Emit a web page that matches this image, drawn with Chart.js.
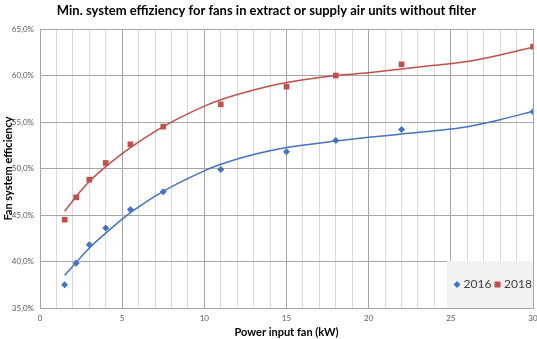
<!DOCTYPE html>
<html>
<head>
<meta charset="utf-8">
<script src="https://cdn.jsdelivr.net/npm/chart.js@4.4.0/dist/chart.umd.min.js"></script>
<style>
  html, body { margin: 0; padding: 0; background: #fff; }
  #wrap { width: 537px; height: 339px; position: relative; }
</style>
</head>
<body>
<div id="wrap"><canvas id="myChart"></canvas></div>
<script>
// Datos (kW y % de eficiencia)
const powerKW = [1.5, 2.2, 3, 4, 5.5, 7.5, 11, 15, 18, 22, 30];
const eff2016 = [37.5, 39.8, 41.8, 43.6, 45.6, 47.5, 49.9, 51.8, 53.0, 54.2, 56.1];
const eff2018 = [44.5, 46.9, 48.8, 50.6, 52.6, 54.5, 56.9, 58.8, 60.0, 61.2, 63.1];

// Líneas de tendencia
const trendKW = [1.5, 2.2, 3, 4, 5, 5.5, 7.5, 10, 11, 13, 15, 18, 20, 22, 24, 26, 28, 30];
const trend2016 = [38.5, 39.9, 41.45, 43.05, 44.55, 45.25, 47.55, 49.75, 50.45, 51.5, 52.25, 52.95, 53.35, 53.7, 54.05, 54.5, 55.25, 56.15];
const trend2018 = [45.4, 47.0, 48.6, 50.2, 51.6, 52.25, 54.5, 56.7, 57.4, 58.45, 59.25, 60.0, 60.3, 60.7, 61.1, 61.5, 62.2, 63.05];

const seriesLabels = ['2016', '2018'];
const blue = '#4472c4';
const red = '#c0504d';

const toPoints = (xs, ys) => xs.map((x, i) => ({ x: x, y: ys[i] }));

// Leyenda dentro del área del gráfico, abajo a la derecha
const insideLegend = {
    id: 'insideLegend',
    afterDraw(chart) {
        const ctx = chart.ctx;
        const area = chart.chartArea;
        const w = 86, h = 47;
        const x0 = area.right - w, y0 = area.bottom - h;
        ctx.save();
        ctx.fillStyle = '#f2f2f2';
        ctx.fillRect(x0, y0, w, h);
        const cy = y0 + h / 2;
        ctx.font = '12px Lato, "Open Sans", sans-serif';
        ctx.textBaseline = 'middle';
        ctx.textAlign = 'left';
        // 2016 rombo
        ctx.fillStyle = blue;
        ctx.beginPath();
        ctx.moveTo(x0 + 10, cy - 3.5);
        ctx.lineTo(x0 + 13.5, cy);
        ctx.lineTo(x0 + 10, cy + 3.5);
        ctx.lineTo(x0 + 6.5, cy);
        ctx.closePath();
        ctx.fill();
        ctx.fillStyle = '#404040';
        ctx.fillText(seriesLabels[0], x0 + 16.5, cy);
        // 2018 cuadrado
        ctx.fillStyle = red;
        ctx.fillRect(x0 + 47.5, cy - 3, 6, 6);
        ctx.fillStyle = '#404040';
        ctx.fillText(seriesLabels[1], x0 + 57, cy);
        ctx.restore();
    }
};

const fmtPct = v => v.toFixed(1).replace('.', ',') + '%';

const ctx = document.getElementById('myChart').getContext('2d');
const chart = new Chart(ctx, {
    type: 'scatter',
    data: {
        datasets: [
            {
                label: seriesLabels[0],
                data: toPoints(powerKW, eff2016),
                backgroundColor: blue,
                borderColor: blue,
                pointStyle: 'rectRot',
                pointRadius: 3.5,
                borderWidth: 0,
                order: 0
            },
            {
                label: seriesLabels[1],
                data: toPoints(powerKW, eff2018),
                backgroundColor: red,
                borderColor: red,
                pointStyle: 'rect',
                pointRadius: 4,
                borderWidth: 0,
                order: 0
            },
            {
                label: 'Trend 2016',
                data: toPoints(trendKW, trend2016),
                showLine: true,
                borderColor: blue,
                borderWidth: 1.5,
                pointRadius: 0,
                cubicInterpolationMode: 'monotone',
                order: 1
            },
            {
                label: 'Trend 2018',
                data: toPoints(trendKW, trend2018),
                showLine: true,
                borderColor: red,
                borderWidth: 1.5,
                pointRadius: 0,
                cubicInterpolationMode: 'monotone',
                order: 1
            }
        ]
    },
    options: {
        responsive: true,
        maintainAspectRatio: false,
        animation: false,
        layout: { padding: { left: 0, right: 4, top: 0, bottom: 0 } },
        plugins: {
            legend: { display: false },
            tooltip: { enabled: false },
            title: {
                display: true,
                text: 'Min. system effiziency for fans in extract or supply air units without filter',
                color: '#000',
                font: { family: 'Lato, "Open Sans", sans-serif', size: 13, weight: 'bold' },
                padding: { top: 3, bottom: 10.4 }
            }
        },
        scales: {
            x: {
                type: 'linear',
                min: 0,
                max: 30,
                afterFit: scale => {
                    scale.height = 31;
                    scale.paddingRight = 0;
                    scale.paddingLeft = 0;
                },
                ticks: {
                    stepSize: 1,
                    autoSkip: false,
                    maxRotation: 0,
                    padding: 6,
                    color: '#595959',
                    font: { family: 'Lato, "Open Sans", sans-serif', size: 8 },
                    callback: v => (v % 5 === 0 ? String(v) : '')
                },
                grid: {
                    drawTicks: false,
                    color: c => (c.tick && c.tick.value % 5 === 0 ? '#a6a6a6' : '#d9d9d9'),
                    lineWidth: 1
                },
                border: { color: '#a6a6a6' },
                title: {
                    display: true,
                    text: 'Power input fan (kW)',
                    color: '#000',
                    font: { family: 'Lato, "Open Sans", sans-serif', size: 11, weight: 'bold' },
                    padding: { top: 0, bottom: 0 }
                }
            },
            y: {
                min: 35,
                max: 65,
                afterFit: scale => { scale.width = 40; },
                ticks: {
                    stepSize: 5,
                    padding: 6,
                    color: '#595959',
                    font: { family: 'Lato, "Open Sans", sans-serif', size: 8 },
                    callback: v => fmtPct(v)
                },
                grid: { drawTicks: false, color: '#a6a6a6', lineWidth: 1 },
                border: { color: '#a6a6a6' },
                title: {
                    display: true,
                    text: 'Fan system efficiency',
                    color: '#000',
                    font: { family: 'Lato, "Open Sans", sans-serif', size: 11, weight: 'bold' },
                    padding: { top: 1.4, bottom: 0 }
                }
            }
        }
    },
    plugins: [insideLegend]
});
</script>
</body>
</html>
